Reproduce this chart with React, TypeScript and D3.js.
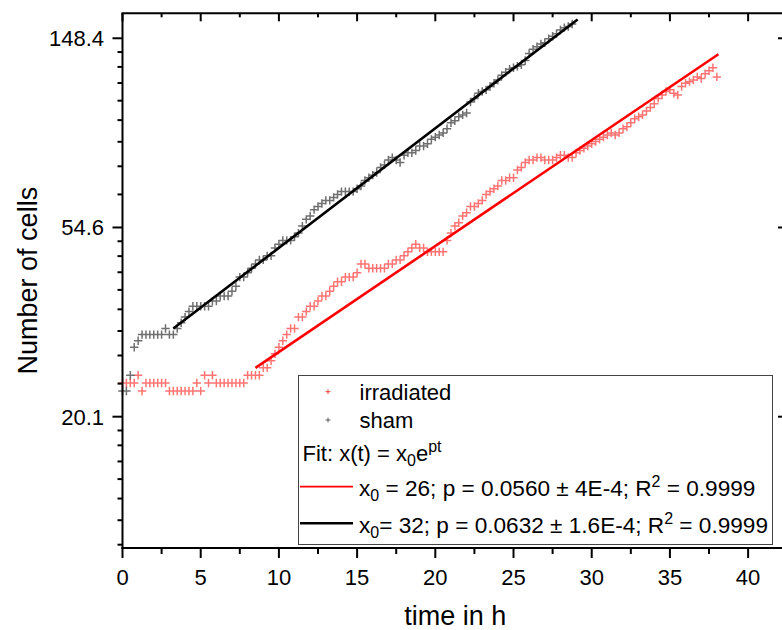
import React from 'react';
import * as d3 from 'd3';

const SAMPLE_STEP_H = 0.25;

const irradiatedCounts = [
  24, 24, 24, 24, 25, 23, 24, 24, 24, 24, 24, 24,
  23, 23, 23, 23, 23, 23, 23, 24, 23, 25, 24, 25,
  24, 24, 24, 24, 24, 24, 24, 24, 25, 25, 25, 25,
  26, 26, 27, 28, 29, 30, 31, 32, 32, 34, 34, 35,
  36, 36, 37, 38, 38, 39, 40, 41, 41, 42, 42, 42,
  43, 45, 45, 44, 44, 44, 44, 44, 45, 45, 46, 46,
  47, 48, 49, 50, 49, 49, 48, 48, 48, 48, 48, 51,
  53, 55, 56, 58, 59, 61, 61, 62, 63, 65, 66, 67,
  68, 70, 70, 71, 71, 74, 75, 77, 78, 78, 79, 79,
  78, 78, 78, 79, 80, 80, 79, 79, 81, 82, 83, 84,
  85, 86, 87, 88, 89, 90, 89, 90, 92, 93, 95, 97,
  98, 99, 101, 103, 105, 108, 110, 112, 113, 111, 110, 115,
  117, 118, 119, 121, 120, 123, 125, 127, 121,
];

const shamCounts = [
  23, 23, 25, 29, 30, 31, 31, 31, 31, 31, 31, 32,
  31, 31, 32, 33, 34, 35, 36, 36, 36, 36, 36, 37,
  37, 38, 38, 38, 39, 40, 42, 42, 43, 44, 45, 46,
  46, 47, 47, 49, 50, 51, 51, 51, 52, 53, 55, 57,
  58, 60, 61, 62, 63, 63, 64, 65, 66, 66, 66, 66,
  67, 68, 70, 71, 72, 73, 75, 76, 78, 79, 78, 77,
  80, 81, 81, 82, 84, 84, 85, 87, 88, 89, 90, 92,
  95, 96, 98, 99, 100, 106, 108, 111, 112, 113, 115, 117,
  119, 122, 124, 126, 127, 128, 129, 132, 137, 140, 142, 144,
  145, 148, 150, 152, 155, 157, 158, 160,
];

// exponential fits x(t) = x0 * e^(p (t - tStart))
const fitIrradiated = { x0: 26, p: 0.056, tStart: 8.5, tEnd: 38.1 };
const fitSham = { x0: 32, p: 0.0632, tStart: 3.25, tEnd: 29.1 };

const xMajorTicks = [0, 5, 10, 15, 20, 25, 30, 35, 40];
const xMinorTicks = [2.5, 7.5, 12.5, 17.5, 22.5, 27.5, 32.5, 37.5, 42.5];
const yMajorExponents = [3, 4, 5];

const xTitle = 'time in h';
const yTitle = 'Number of cells';
const seriesNames = ['irradiated', 'sham'];

const W = 782;
const H = 630;
const FONT = "'Liberation Sans', Arial, sans-serif";
const RED = '#ff0000';
const DARK = '#000000';

export default function App() {
  const left = 122.5, right = 788, top = 13.3, bottom = 548;
  const x = d3.scaleLinear().domain([0, 42.55]).range([left, right]);
  const y = d3.scaleLog().base(Math.E)
    .domain([Math.exp(2.306), Math.exp(5.132)])
    .range([bottom, top]);

  const yMinor: number[] = [];
  [2, 3, 4, 5].forEach((k) => {
    const a = Math.exp(k), b = Math.exp(k + 1);
    for (let j = 1; j <= 8; j++) {
      const v = a + (j * (b - a)) / 9;
      const py = y(v);
      if (py <= bottom - 1 && py >= top + 1) yMinor.push(v);
    }
  });

  const crossPath = (counts: number[]) => {
    const s = 4.2;
    return counts
      .map((c, i) => {
        const px = x(i * SAMPLE_STEP_H);
        const py = y(c);
        return `M${px - s},${py}H${px + s}M${px},${py - s}V${py + s}`;
      })
      .join('');
  };

  const fitPath = (f: typeof fitSham) => {
    const ts = [f.tStart, f.tEnd];
    return d3.line<number>()
      .x((t) => x(t))
      .y((t) => y(f.x0 * Math.exp(f.p * (t - f.tStart))))(ts) as string;
  };

  // legend geometry
  const lgX = 298.5, lgY = 375.5, lgW = 474, lgH = 169;

  return (
    <svg
      width={W}
      height={H}
      style={{ position: 'absolute', left: 0, top: 0, background: '#fff' }}
      fontFamily={FONT}
    >
      <rect x={0} y={0} width={W} height={H} fill="#fff" />

      {/* data */}
      <path d={crossPath(irradiatedCounts)} stroke={RED} strokeOpacity={0.55} strokeWidth={1.5} fill="none" />
      <path d={crossPath(shamCounts)} stroke="#222" strokeOpacity={0.65} strokeWidth={1.5} fill="none" />

      {/* fits */}
      <path d={fitPath(fitIrradiated)} stroke={RED} strokeWidth={2.6} fill="none" />
      <path d={fitPath(fitSham)} stroke={DARK} strokeWidth={2.6} fill="none" />

      {/* frame */}
      <g stroke="#000" strokeWidth={2} fill="none">
        <line x1={left} x2={left} y1={top} y2={bottom + 1} />
        <line x1={left - 1} x2={right} y1={bottom} y2={bottom} />
        <line x1={left - 1} x2={right} y1={top} y2={top} />
        <line x1={right} x2={right} y1={top} y2={bottom} />
      </g>

      {/* x ticks */}
      <g stroke="#000" strokeWidth={2}>
        {xMajorTicks.map((t) => (
          <line key={'xb' + t} x1={x(t)} x2={x(t)} y1={bottom} y2={bottom + 10} />
        ))}
        {xMinorTicks.map((t) => (
          <line key={'xbm' + t} x1={x(t)} x2={x(t)} y1={bottom} y2={bottom + 6} />
        ))}
        {xMajorTicks.map((t) => (
          <line key={'xt' + t} x1={x(t)} x2={x(t)} y1={top} y2={top + 8} />
        ))}
        {xMinorTicks.map((t) => (
          <line key={'xtm' + t} x1={x(t)} x2={x(t)} y1={top} y2={top + 4} />
        ))}
      </g>
      <g fontSize={22} textAnchor="middle" fill="#000">
        {xMajorTicks.map((t) => (
          <text key={'xl' + t} x={x(t)} y={585}>{t}</text>
        ))}
      </g>

      {/* y ticks */}
      <g stroke="#000" strokeWidth={2}>
        {yMajorExponents.map((k) => (
          <line key={'yl' + k} x1={left - 10} x2={left} y1={y(Math.exp(k))} y2={y(Math.exp(k))} />
        ))}
        {yMinor.map((v) => (
          <line key={'ym' + v} x1={left - 5} x2={left} y1={y(v)} y2={y(v)} />
        ))}
        {yMajorExponents.map((k) => (
          <line key={'yr' + k} x1={right - 10} x2={right} y1={y(Math.exp(k))} y2={y(Math.exp(k))} />
        ))}
      </g>
      <g fontSize={22} textAnchor="end" fill="#000">
        {yMajorExponents.map((k) => (
          <text key={'yt' + k} x={104} y={y(Math.exp(k)) + 8}>{Math.exp(k).toFixed(1)}</text>
        ))}
      </g>

      {/* axis titles */}
      <text x={(left + right) / 2} y={625} fontSize={27} textAnchor="middle">{xTitle}</text>
      <text
        transform={`translate(37,${(top + bottom) / 2}) rotate(-90)`}
        fontSize={27}
        textAnchor="middle"
      >
        {yTitle}
      </text>

      {/* legend */}
      <rect x={lgX} y={lgY} width={lgW} height={lgH} fill="#fff" stroke="#444" strokeWidth={1} />
      <g stroke={RED} strokeWidth={1}>
        <path d="M325.5,391.7H330.5M328,389.2V394.2" strokeOpacity={0.7} />
      </g>
      <g stroke="#222" strokeWidth={1}>
        <path d="M325.5,420H330.5M328,417.5V422.5" strokeOpacity={0.7} />
      </g>
      <g fontSize={22} fill="#000">
        <text x={359.5} y={400}>{seriesNames[0]}</text>
        <text x={359.5} y={428}>{seriesNames[1]}</text>
        <text x={302.5} y={461}>
          Fit: x(t) = x<tspan fontSize={16} dy={5}>0</tspan>
          <tspan dy={-5}>e</tspan>
          <tspan fontSize={16} dy={-9}>pt</tspan>
        </text>
      </g>
      <g fontSize={22.6} fill="#000">
        <text x={359} y={496}>
          x<tspan fontSize={16} dy={5}>0</tspan>
          <tspan dy={-5}> = 26; p = 0.0560 ± 4E-4; R</tspan>
          <tspan fontSize={16} dy={-9}>2</tspan>
          <tspan dy={9}> = 0.9999</tspan>
        </text>
        <text x={359} y={533}>
          x<tspan fontSize={16} dy={5}>0</tspan>
          <tspan dy={-5}>= 32; p = 0.0632 ± 1.6E-4; R</tspan>
          <tspan fontSize={16} dy={-9}>2</tspan>
          <tspan dy={9}> = 0.9999</tspan>
        </text>
      </g>
      <line x1={300} x2={353} y1={486.7} y2={486.7} stroke={RED} strokeWidth={1.8} />
      <line x1={300} x2={353} y1={523.3} y2={523.3} stroke={DARK} strokeWidth={2.6} />
    </svg>
  );
}
